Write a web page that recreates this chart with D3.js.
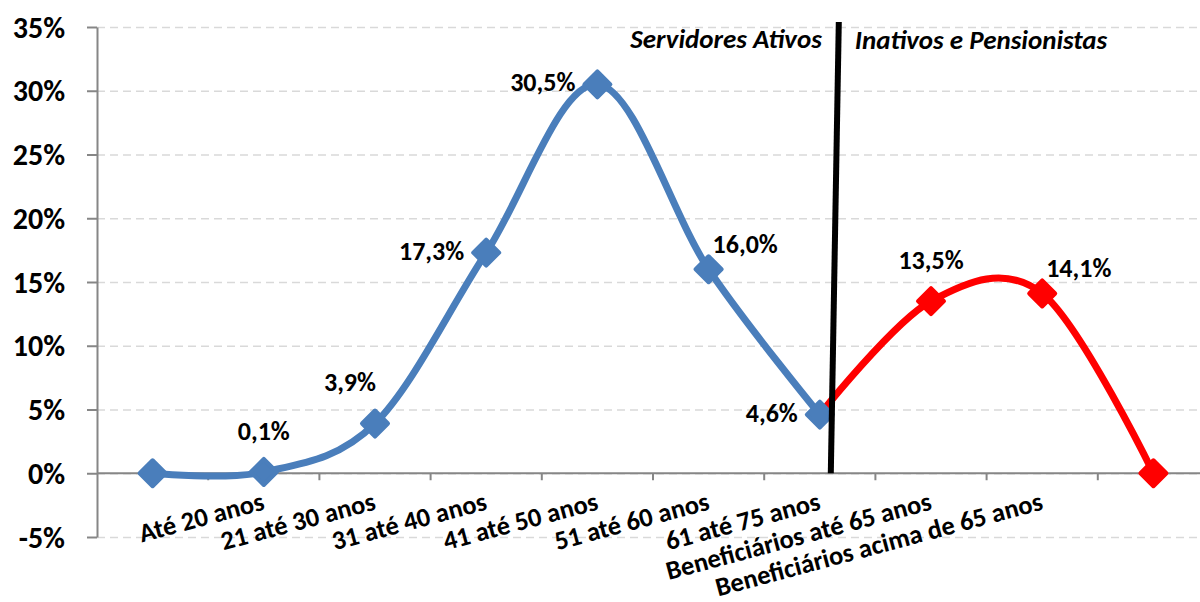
<!doctype html>
<html lang="pt">

<head>
  <meta charset="utf-8">
  <title>Distribuição por faixa etária</title>
  <style>
    body {
      margin: 0;
      background: #fff;
    }

    #chart text {
      font-family: Carlito, Calibri, Lato, sans-serif;
      font-weight: bold;
      fill: #000;
    }

    .grid line {
      stroke: #d9d9d9;
      stroke-width: 1.5;
      stroke-dasharray: 8 5;
    }

    .grid .domain {
      display: none;
    }

    .axis line,
    .axis path {
      stroke: #868686;
      stroke-width: 2;
    }
  </style>
</head>

<body>
  <div id="chart"></div>

  <script src="https://d3js.org/d3.v7.min.js"></script>
  <script>
    // categorias (a primeira e a última ficam sem rótulo)
    const categories = ['', 'Até 20 anos', '21 até 30 anos', '31 até 40 anos', '41 até 50 anos',
      '51 até 60 anos', '61 até 75 anos', 'Beneficiários até 65 anos', 'Beneficiários acima de 65 anos', ''];

    const ativos = [0, 0.001, 0.039, 0.173, 0.305, 0.160, 0.046, null, null, null];
    const inativos = [null, null, null, null, null, null, 0.046, 0.135, 0.141, 0];

    // quais pontos recebem rótulo
    const ativosLabeled = [1, 2, 3, 4, 5, 6];
    const inativosLabeled = [7, 8];

    const yTicks = [-0.05, 0, 0.05, 0.10, 0.15, 0.20, 0.25, 0.30, 0.35];

    // onde fica o rótulo de cada ponto
    const labelPlace = {
      1: 'above', 2: 'aboveLeft', 3: 'left', 4: 'left', 5: 'aboveRight',
      6: 'left', 7: 'above', 8: 'aboveRight'
    };

    const width = 1200;
    const height = 602;

    const ptBR = d3.formatLocale({
      decimal: ',', thousands: '.', grouping: [3], currency: ['R$', ''], minus: '-'
    });
    const fmtTick = ptBR.format('.0%');
    const fmtLabel = ptBR.format('.1%');

    const svg = d3.select('#chart')
      .append('svg')
      .attr('width', width)
      .attr('height', height);

    const x = d3.scaleBand()
      .domain(d3.range(categories.length))
      .range([97, 1209]);
    const cx = i => x(i) + x.bandwidth() / 2;

    const y = d3.scaleLinear()
      .domain([-0.05, 0.35])
      .range([537, 27]);

    // linhas de grade
    svg.append('g')
      .attr('class', 'grid')
      .attr('transform', 'translate(97,0)')
      .call(d3.axisLeft(y).tickValues(yTicks).tickSize(-(width - 97)).tickFormat(''));

    // eixo y
    const yAxis = svg.append('g')
      .attr('class', 'axis')
      .attr('transform', 'translate(97,0)')
      .call(d3.axisLeft(y).tickValues(yTicks).tickSize(10).tickSizeOuter(0).tickPadding(22).tickFormat(fmtTick));
    yAxis.selectAll('text')
      .style('font-size', '30px')
      .attr('dy', '0.34em');

    // eixo x (marcas entre as categorias)
    const xAxis = svg.append('g').attr('class', 'axis');
    xAxis.append('line')
      .attr('x1', 97).attr('x2', width)
      .attr('y1', y(0)).attr('y2', y(0));
    xAxis.selectAll('.tick')
      .data(d3.range(1, categories.length))
      .join('line')
      .attr('x1', d => x(d)).attr('x2', d => x(d))
      .attr('y1', y(0)).attr('y2', y(0) + 7);

    svg.append('g')
      .selectAll('text')
      .data(categories)
      .join('text')
      .attr('text-anchor', 'end')
      .attr('transform', (d, i) => `translate(${cx(i) + 2},${y(0) + 36}) rotate(-15)`)
      .style('font-size', '26.5px')
      .text(d => d);

    // séries
    const line = d3.line()
      .defined(d => d != null)
      .x((d, i) => cx(i))
      .y(d => y(d))
      .curve(d3.curveCardinal.tension(0));

    const diamond = 'M0,-13L13,0L0,13L-13,0Z';

    function drawSeries(values, color, markerIdx) {
      const g = svg.append('g');
      g.append('path')
        .datum(values)
        .attr('d', line)
        .attr('fill', 'none')
        .attr('stroke', color)
        .attr('stroke-width', 7);
      g.selectAll('path.marker')
        .data(markerIdx)
        .join('path')
        .attr('class', 'marker')
        .attr('d', diamond)
        .attr('transform', i => `translate(${cx(i)},${y(values[i])})`)
        .attr('fill', color)
        .attr('stroke', color)
        .attr('stroke-width', 4)
        .attr('stroke-linejoin', 'round');
    }

    drawSeries(inativos, '#ff0000', [7, 8, 9]);
    drawSeries(ativos, '#4a7ebb', [0, 1, 2, 3, 4, 5, 6]);

    // linha divisória
    svg.append('line')
      .attr('x1', cx(6) + 19).attr('y1', y(0.35) - 5)
      .attr('x2', cx(6) + 11).attr('y2', y(0))
      .attr('stroke', '#000')
      .attr('stroke-width', 6);

    svg.append('text')
      .attr('x', cx(6) + 2).attr('y', 48)
      .attr('text-anchor', 'end')
      .style('font-style', 'italic')
      .style('font-size', '27px')
      .text('Servidores Ativos');

    svg.append('text')
      .attr('x', cx(6) + 35).attr('y', 49)
      .style('font-style', 'italic')
      .style('font-size', '27px')
      .text('Inativos e Pensionistas');

    // rótulos de dados
    const offsets = {
      above: { dx: 0, dy: -32, anchor: 'middle' },
      aboveLeft: { dx: 1, dy: -33, anchor: 'end' },
      left: { dx: -22, dy: 7, anchor: 'end' },
      aboveRight: { dx: 4, dy: -16, anchor: 'start' }
    };

    const labels = ativosLabeled.map(i => ({ i, v: ativos[i] }))
      .concat(inativosLabeled.map(i => ({ i, v: inativos[i] })));

    svg.append('g')
      .selectAll('text')
      .data(labels)
      .join('text')
      .attr('x', d => cx(d.i) + offsets[labelPlace[d.i]].dx)
      .attr('y', d => y(d.v) + offsets[labelPlace[d.i]].dy)
      .attr('text-anchor', d => offsets[labelPlace[d.i]].anchor)
      .style('font-size', '26px')
      .text(d => fmtLabel(d.v));
  </script>
</body>

</html>
